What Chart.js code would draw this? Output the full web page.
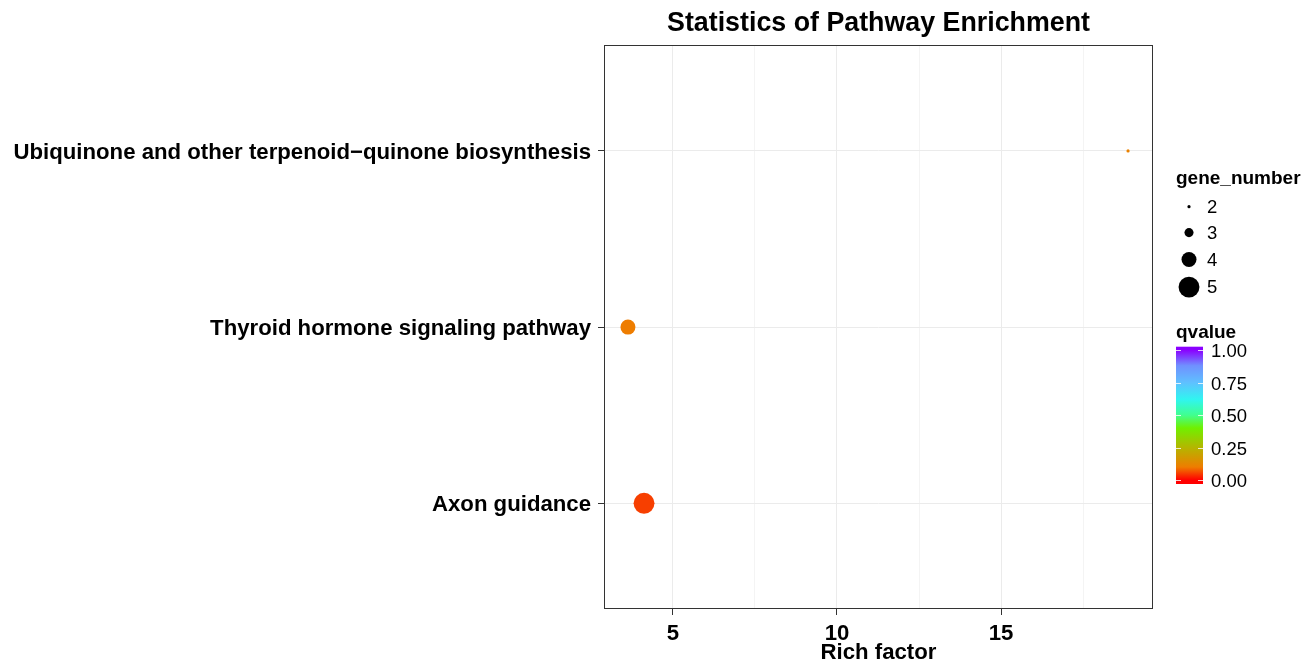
<!DOCTYPE html>
<html>
<head>
<meta charset="utf-8">
<script src="https://cdn.jsdelivr.net/npm/chart.js@4/dist/chart.umd.min.js"></script>
<style>
  html, body { margin: 0; padding: 0; background: #ffffff; }
  #wrap { width: 1314px; height: 662px; }
</style>
</head>
<body>
<div id="wrap"><canvas id="c" width="1314" height="662"></canvas></div>
<script>
// ---- data ----
const pathways = ['Axon guidance', 'Thyroid hormone signaling pathway', 'Ubiquinone and other terpenoid\u2212quinone biosynthesis'];
const richFactor = [4.12, 3.63, 18.87];
const geneNumber = [5, 4, 2];
const qvalue = [0.05, 0.10, 0.11];
const xTickValues = [5, 10, 15];
const xMinorValues = [7.5, 12.5, 17.5];
const geneLegend = [2, 3, 4, 5];
const qTicks = [0, 0.25, 0.5, 0.75, 1];
const qTickLabels = ['0.00', '0.25', '0.50', '0.75', '1.00'];

// ---- styles ----
const FONT = '"Liberation Sans", Arial, Helvetica, sans-serif';
const colorStops = [
  [0.00, [255, 0, 0]],
  [0.10, [238, 125, 0]],
  [0.25, [180, 182, 0]],
  [0.40, [112, 240, 0]],
  [0.50, [64, 255, 144]],
  [0.62, [48, 245, 240]],
  [0.75, [95, 192, 255]],
  [0.88, [112, 144, 255]],
  [1.00, [138, 0, 255]]
];
function qColor(q) {
  for (let i = 1; i < colorStops.length; i++) {
    const [p1, c1] = colorStops[i];
    const [p0, c0] = colorStops[i - 1];
    if (q <= p1) {
      const t = (q - p0) / (p1 - p0);
      const c = c0.map((v, k) => Math.round(v + (c1[k] - v) * t));
      return `rgb(${c[0]},${c[1]},${c[2]})`;
    }
  }
  const c = colorStops[colorStops.length - 1][1];
  return `rgb(${c[0]},${c[1]},${c[2]})`;
}
function geneRadius(g) { return 1.6 + (g - 2) * 2.95; }

const points = pathways.map((p, i) => ({ x: richFactor[i], y: i + 1 }));

const legendPlugin = {
  id: 'ggLegend',
  afterDraw(chart) {
    const ctx = chart.ctx;
    const a = chart.chartArea;
    ctx.save();
    // panel border
    ctx.strokeStyle = '#333333';
    ctx.lineWidth = 1;
    ctx.strokeRect(Math.round(a.left) + 0.5, Math.round(a.top) + 0.5, Math.round(a.right - a.left) - 1, Math.round(a.bottom - a.top) - 1);

    const lx = a.right + 23;
    // gene_number legend
    ctx.fillStyle = '#000';
    ctx.textAlign = 'left';
    ctx.textBaseline = 'middle';
    ctx.font = 'bold 19px ' + FONT;
    ctx.fillText('gene_number', lx, 179);
    let y = 206.7;
    let prevR = null;
    geneLegend.forEach((g) => {
      const r = geneRadius(g);
      if (prevR !== null) y += 25 + 0.15 * (prevR + r);
      ctx.beginPath();
      ctx.arc(lx + 13, y, r, 0, Math.PI * 2);
      ctx.fillStyle = '#000';
      ctx.fill();
      ctx.font = '18.5px ' + FONT;
      ctx.fillText(String(g), lx + 31, y + 1);
      prevR = r;
    });

    // qvalue colorbar
    ctx.font = 'bold 19px ' + FONT;
    ctx.fillText('qvalue', lx, 333);
    const bx = lx, bw = 27, bTop = 346.7, bBot = 484;
    const vTop = 350, vBot = 480; // positions of 1 and 0
    const grad = ctx.createLinearGradient(0, vBot, 0, vTop);
    colorStops.forEach(([p]) => grad.addColorStop(p, qColor(p)));
    ctx.fillStyle = qColor(1);
    ctx.fillRect(bx, bTop, bw, vTop - bTop);
    ctx.fillStyle = qColor(0);
    ctx.fillRect(bx, vBot, bw, bBot - vBot);
    ctx.fillStyle = grad;
    ctx.fillRect(bx, vTop, bw, vBot - vTop);
    ctx.strokeStyle = 'rgba(255,255,255,0.8)';
    ctx.lineWidth = 1;
    ctx.font = '18.5px ' + FONT;
    qTicks.forEach((q, i) => {
      const ty = Math.round(vBot - q * (vBot - vTop)) + 0.5;
      ctx.beginPath();
      ctx.moveTo(bx, ty); ctx.lineTo(bx + 5, ty);
      ctx.moveTo(bx + bw - 5, ty); ctx.lineTo(bx + bw, ty);
      ctx.stroke();
      ctx.fillStyle = '#000';
      ctx.fillText(qTickLabels[i], bx + 35, ty + 1);
    });
    ctx.restore();
  }
};

new Chart(document.getElementById('c'), {
  type: 'scatter',
  data: {
    datasets: [{
      data: points,
      pointRadius: geneNumber.map(geneRadius),
      pointHoverRadius: geneNumber.map(geneRadius),
      pointBackgroundColor: qvalue.map(qColor),
      pointBorderWidth: 0,
      pointBorderColor: 'rgba(0,0,0,0)'
    }]
  },
  options: {
    responsive: false,
    animation: false,
    events: [],
    layout: { padding: { left: 0, right: 161, top: 0, bottom: 0 } },
    plugins: {
      legend: { display: false },
      tooltip: { enabled: false },
      title: {
        display: true,
        text: 'Statistics of Pathway Enrichment',
        color: '#000',
        fullSize: false,
        font: { family: FONT, size: 26.8, weight: 'bold', lineHeight: 1.2 },
        padding: { top: 8, bottom: 5 }
      }
    },
    scales: {
      x: {
        type: 'linear',
        min: 2.9,
        max: 19.63,
        afterFit(scale) { scale.height = 53; },
        afterBuildTicks(scale) {
          scale.ticks = xTickValues.concat(xMinorValues).sort((a, b) => a - b).map(v => ({ value: v }));
        },
        ticks: {
          color: '#000',
          padding: 6,
          maxRotation: 0,
          autoSkip: false,
          font: { family: FONT, size: 22.2, weight: 'bold' },
          callback: (v) => xTickValues.includes(v) ? String(v) : ''
        },
        grid: {
          color: (c) => (c.tick && xMinorValues.includes(c.tick.value)) ? '#f4f4f4' : '#ebebeb',
          tickColor: (c) => (c.tick && xMinorValues.includes(c.tick.value)) ? 'rgba(0,0,0,0)' : '#333333',
          tickLength: 6,
          lineWidth: 1
        },
        border: { display: false },
        title: {
          display: true,
          text: 'Rich factor',
          color: '#000',
          font: { family: FONT, size: 22.2, weight: 'bold', lineHeight: 1.0 },
          padding: { top: 0, bottom: -2 }
        }
      },
      y: {
        type: 'linear',
        min: 0.4,
        max: 3.6,
        afterFit(scale) { scale.width = 604; },
        afterBuildTicks(scale) {
          scale.ticks = pathways.map((p, i) => ({ value: i + 1 }));
        },
        ticks: {
          color: '#000',
          padding: 7,
          labelOffset: 2,
          autoSkip: false,
          font: { family: FONT, size: 22.2, weight: 'bold' },
          callback: (v) => pathways[Math.round(v) - 1] || ''
        },
        grid: {
          color: '#ebebeb',
          tickColor: '#333333',
          tickLength: 6,
          lineWidth: 1
        },
        border: { display: false }
      }
    }
  },
  plugins: [legendPlugin]
});
</script>
</body>
</html>
